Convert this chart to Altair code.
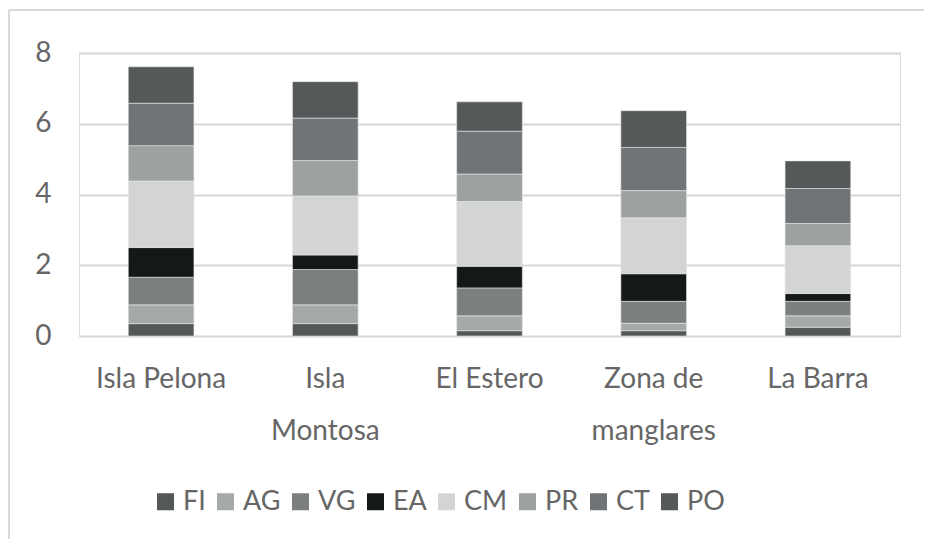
import altair as alt
import pandas as pd

sites = ["Isla Pelona", "Isla Montosa", "El Estero", "Zona de manglares", "La Barra"]
groups = ["FI", "AG", "VG", "EA", "CM", "PR", "CT", "PO"]

FI = [0.35, 0.35, 0.15, 0.15, 0.25]
AG = [0.53, 0.53, 0.42, 0.21, 0.32]
VG = [0.78, 1.00, 0.79, 0.62, 0.41]
EA = [0.84, 0.41, 0.61, 0.78, 0.22]
CM = [1.88, 1.67, 1.83, 1.58, 1.35]
PR = [1.00, 1.00, 0.78, 0.77, 0.63]
CT = [1.20, 1.20, 1.21, 1.22, 0.99]
PO = [1.03, 1.03, 0.83, 1.04, 0.78]

colors = ["#545858", "#a6a9a9", "#7c7f7f", "#151819", "#d3d5d4", "#9ea1a1", "#707476", "#555959"]
y_ticks = [0, 2, 4, 6, 8]

series = [FI, AG, VG, EA, CM, PR, CT, PO]
rows = []
for gi, (g, vals) in enumerate(zip(groups, series)):
    for s, v in zip(sites, vals):
        rows.append({"site": s, "grupo": g, "valor": v, "idx": gi})
df = pd.DataFrame(rows)

FONT = "Lato"
TXT = "#666666"

label_expr = ("datum.label == 'Isla Montosa' ? ['Isla', 'Montosa'] : "
              "datum.label == 'Zona de manglares' ? ['Zona de', 'manglares'] : datum.label")

bars = alt.Chart(df).mark_bar(stroke="#e8e8e8", strokeWidth=0.6).encode(
    x=alt.X("site:N", sort=sites, title=None,
            scale=alt.Scale(paddingInner=0.6, paddingOuter=0.3),
            axis=alt.Axis(labelAngle=0, labelExpr=label_expr, domain=False, ticks=False,
                          labelFont=FONT, labelFontSize=28, labelColor=TXT, labelFontWeight=400,
                          labelPadding=29, labelLineHeight=52, labelBaseline="top")),
    y=alt.Y("valor:Q", stack="zero", title=None,
            scale=alt.Scale(domain=[0, 8], nice=False),
            axis=alt.Axis(values=y_ticks, domain=False, ticks=False, labelFont=FONT,
                          labelFontSize=28, labelColor=TXT, labelPadding=28, labelFontWeight=400,
                          grid=True, gridColor="#d6d6d6", gridWidth=2)),
    color=alt.Color("grupo:N", scale=alt.Scale(domain=groups, range=colors), title=None,
                    legend=alt.Legend(orient="none", legendX=73, legendY=435, direction="horizontal",
                                      columns=8, symbolType="square", symbolSize=289,
                                      symbolStrokeWidth=0, labelFont=FONT, labelFontSize=27,
                                      labelFontWeight=400,
                                      labelColor=TXT, labelOffset=4, columnPadding=6)),
    order=alt.Order("idx:Q", sort="ascending"),
)

one = alt.Data(values=[{"k": 1}])
top_border = alt.Chart(one).mark_rule(color="#d9d9d9", strokeWidth=2).encode(
    x=alt.value(-70), x2=alt.value(845), y=alt.value(-43))
left_border = alt.Chart(one).mark_rule(color="#d9d9d9", strokeWidth=2).encode(
    x=alt.value(-70), y=alt.value(-43), y2=alt.value(486))

chart = alt.layer(bars, top_border, left_border).properties(
    width=821, height=283,
    padding={"left": 0, "top": 1, "right": 0, "bottom": 0},
).configure_view(stroke=None).configure(background="white")

chart.save("out.html", embed_options={"renderer": "svg", "actions": False})
